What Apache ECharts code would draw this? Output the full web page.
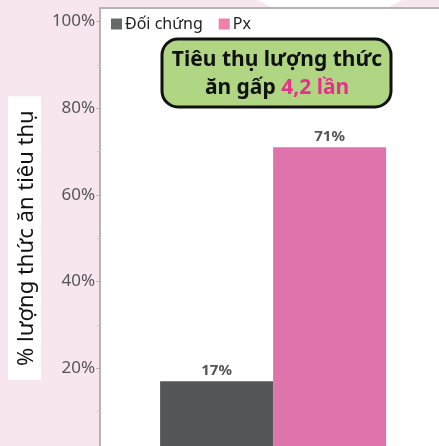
<!DOCTYPE html>
<html>
<head>
<meta charset="utf-8">
<script src="https://cdn.jsdelivr.net/npm/echarts@6/dist/echarts.min.js"></script>
<style>
  html, body { margin: 0; padding: 0; background: #f7e6f0; overflow: hidden; }
  #main { width: 460px; height: 470px; }
</style>
</head>
<body>
<div id="main"></div>
<script>
var categories = ['Tiêu thụ'];
var seriesNames = ['Đối chứng', 'Px'];
var doiChung = [17];
var px = [71];
var yTicks = [0, 20, 40, 60, 80, 100];

var chart = echarts.init(document.getElementById('main'));

var option = {
  backgroundColor: '#f7e6f0',
  textStyle: { fontFamily: 'Noto Sans' },
  graphic: [
    // white area in the top right corner
    { type: 'circle', z: -10, silent: true, shape: { cx: 330, cy: -120, r: 140 }, style: { fill: '#fff' } },
    // plot frame
    { type: 'rect', z: -5, silent: true, shape: { x: 100, y: 8, width: 400, height: 500 },
      style: { fill: '#fff', stroke: '#b4b4b4', lineWidth: 2 } },
    {
      type: 'group', z: 100,
      children: [
        { type: 'rect', shape: { x: 162, y: 39, width: 229, height: 68, r: 16 },
          style: { fill: '#b0d683', stroke: '#111', lineWidth: 3 } },
        { type: 'text', x: 277, y: 74,
          style: {
            text: '{b|Tiêu thụ lượng thức}\n{b|ăn gấp }{p|4,2 lần}',
            align: 'center', verticalAlign: 'middle',
            lineHeight: 28,
            rich: {
              b: { fontFamily: 'Noto Sans', fontSize: 21, fontWeight: 'bold', fill: '#111', lineHeight: 28 },
              p: { fontFamily: 'Noto Sans', fontSize: 21, fontWeight: 'bold', fill: '#e5338c', lineHeight: 28 }
            }
          } }
      ]
    }
  ],
  legend: {
    left: 106, top: 11,
    itemWidth: 11, itemHeight: 11,
    itemGap: 16,
    icon: 'rect',
    textStyle: { fontSize: 16, color: '#222', fontFamily: 'Noto Sans', padding: [0, 0, 0, -2] },
    data: [
      { name: seriesNames[0], itemStyle: { color: '#66686c' } },
      { name: seriesNames[1], itemStyle: { color: '#ef7fab' } }
    ]
  },
  grid: { left: 100, width: 346, top: 21.5, height: 433.3, containLabel: false },
  xAxis: {
    type: 'category',
    data: categories,
    show: false
  },
  yAxis: {
    type: 'value',
    min: yTicks[0],
    max: yTicks[yTicks.length - 1],
    interval: 20,
    name: '% lượng thức ăn tiêu thụ',
    nameLocation: 'middle',
    nameGap: 50,
    nameTextStyle: {
      fontSize: 22, color: '#111', fontFamily: 'Noto Sans',
      backgroundColor: '#fff',
      padding: [8, 14, 3, 14]
    },
    axisLine: { show: false },
    axisTick: { show: true, inside: false, length: 4, lineStyle: { color: '#b4b4b4' } },
    minorTick: { show: true, splitNumber: 2, length: 3, lineStyle: { color: '#c4c4c4' } },
    splitLine: { show: false },
    axisLabel: {
      margin: 5, fontSize: 17, color: '#555', fontFamily: 'Noto Sans',
      formatter: function (v) { return v === 0 ? '' : v + '%'; }
    }
  },
  series: [
    {
      name: seriesNames[0],
      type: 'bar',
      data: doiChung,
      barWidth: 113,
      barGap: '0%',
      itemStyle: { color: '#54575a' },
      label: {
        show: true, position: 'top', distance: 3,
        formatter: '{c}%',
        fontSize: 15, fontWeight: 'bold', color: '#555', fontFamily: 'Noto Sans'
      }
    },
    {
      name: seriesNames[1],
      type: 'bar',
      data: px,
      barWidth: 113,
      barGap: '0%',
      itemStyle: { color: '#de74ab' },
      label: {
        show: true, position: 'top', distance: 3,
        formatter: '{c}%',
        fontSize: 15, fontWeight: 'bold', color: '#555', fontFamily: 'Noto Sans'
      }
    }
  ]
};

chart.setOption(option);
</script>
</body>
</html>
